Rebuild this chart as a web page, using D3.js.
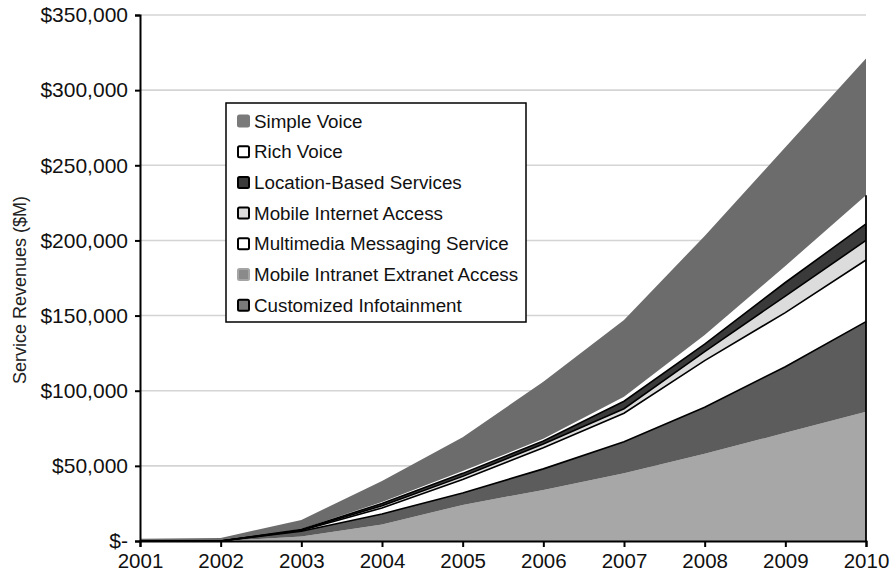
<!DOCTYPE html>
<html>
<head>
<meta charset="utf-8">
<script src="https://cdn.jsdelivr.net/npm/d3@7"></script>
<style>
  html, body { margin: 0; padding: 0; background: #fff; }
  svg { display: block; font-family: "Liberation Sans", Arial, sans-serif; }
</style>
</head>
<body>
<svg id="chart" width="894" height="573"></svg>
<script>
// Years on the horizontal axis
const years = [2001, 2002, 2003, 2004, 2005, 2006, 2007, 2008, 2009, 2010];

// Service revenues by category ($M)
const simpleVoice    = [1500, 2000, 6000, 14000, 22500, 38000, 51000, 66000, 79000, 91000];
const richVoice      = [0, 0, 400, 1000, 1500, 1500, 3000, 6000, 11000, 19000];
const locationBased  = [0, 0, 300, 1500, 2000, 2000, 5000, 5000, 9000, 11000];
const mobileInternet = [0, 0, 300, 1500, 2000, 2500, 3000, 6000, 11000, 13000];
const multimedia     = [0, 0, 500, 4000, 9000, 14000, 19000, 31000, 36000, 41000];
const infotainment   = [0, 0, 3500, 7000, 8000, 14000, 21000, 31000, 44000, 60000];
const intranet       = [0, 0, 3000, 11000, 24000, 34000, 45000, 58000, 72000, 86000];

// Legend order (top to bottom)
const legendNames = [
  "Simple Voice", "Rich Voice", "Location-Based Services", "Mobile Internet Access",
  "Multimedia Messaging Service", "Mobile Intranet Extranet Access", "Customized Infotainment"
];

// Axis ticks
const yTickValues = [0, 50000, 100000, 150000, 200000, 250000, 300000, 350000];
const yTickLabels = ["$-", "$50,000", "$100,000", "$150,000", "$200,000", "$250,000", "$300,000", "$350,000"];
const yTitle = "Service Revenues ($M)";

// Stack order, bottom to top
const stackKeys = ["intranet", "infotainment", "multimedia", "mobileInternet", "locationBased", "richVoice", "simpleVoice"];
const seriesByKey = { simpleVoice, richVoice, locationBased, mobileInternet, multimedia, infotainment, intranet };
const fillByKey = {
  simpleVoice: "#6c6c6c", richVoice: "#ffffff", locationBased: "#3a3a3a",
  mobileInternet: "#dcdcdc", multimedia: "#ffffff", infotainment: "#5c5c5c", intranet: "#a7a7a7"
};
// Which layers get a black outline along their upper edge
const outlinedTop = new Set(["infotainment", "multimedia", "mobileInternet", "locationBased"]);

const table = years.map((yr, i) => {
  const row = { year: yr };
  stackKeys.forEach(k => row[k] = seriesByKey[k][i]);
  return row;
});

const svg = d3.select("#chart");
const plotLeft = 140, plotRight = 866, plotTop = 15, plotBottom = 541;

const x = d3.scaleLinear().domain([2001, 2010]).range([plotLeft, plotRight]);
const y = d3.scaleLinear().domain([0, 350000]).range([plotBottom, plotTop]);

// Gridlines
svg.append("g")
  .selectAll("line")
  .data(yTickValues.filter(v => v > 0))
  .join("line")
  .attr("x1", plotLeft).attr("x2", plotRight)
  .attr("y1", d => y(d)).attr("y2", d => y(d))
  .attr("stroke", "#d4d4d4").attr("stroke-width", 1.6);

// Stacked areas
const stacked = d3.stack().keys(stackKeys)(table);
const area = d3.area()
  .x(d => x(d.data.year))
  .y0(d => y(d[0]))
  .y1(d => y(d[1]));

svg.append("g")
  .selectAll("path")
  .data(stacked)
  .join("path")
  .attr("d", area)
  .attr("fill", d => fillByKey[d.key]);

// Black upper edges for the outlined layers
const topLine = d3.line().x(d => x(d.data.year)).y(d => y(d[1]));
svg.append("g")
  .selectAll("path")
  .data(stacked.filter(s => outlinedTop.has(s.key)))
  .join("path")
  .attr("d", topLine)
  .attr("fill", "none")
  .attr("stroke", "#000")
  .attr("stroke-width", 1.6);

// Right-hand edge of the outlined block at the final year
const richLayer = stacked.find(s => s.key === "richVoice");
const last = richLayer[richLayer.length - 1];
svg.append("line")
  .attr("x1", x(last.data.year)).attr("x2", x(last.data.year))
  .attr("y1", y(last[1])).attr("y2", y(0))
  .attr("stroke", "#000").attr("stroke-width", 1.8);

// Axes
const yAxis = d3.axisLeft(y)
  .tickValues(yTickValues)
  .tickFormat((d, i) => yTickLabels[i])
  .tickSize(5).tickPadding(7);
const gy = svg.append("g").attr("transform", `translate(${plotLeft},0)`).call(yAxis);
gy.select(".domain").attr("stroke", "#000").attr("stroke-width", 2);
gy.selectAll(".tick line").attr("stroke", "#000").attr("stroke-width", 2);
gy.selectAll(".tick text").attr("font-size", 21).attr("fill", "#111")
  .attr("font-family", "Liberation Sans, Arial, sans-serif");

const xAxis = d3.axisBottom(x)
  .tickValues(years)
  .tickFormat(d3.format("d"))
  .tickSize(6).tickPadding(6);
const gx = svg.append("g").attr("transform", `translate(0,${plotBottom})`).call(xAxis);
gx.select(".domain").attr("stroke", "#000").attr("stroke-width", 2);
gx.selectAll(".tick line").attr("stroke", "#000").attr("stroke-width", 2);
gx.selectAll(".tick text").attr("font-size", 20.5).attr("fill", "#111")
  .attr("font-family", "Liberation Sans, Arial, sans-serif");

// Y-axis title
svg.append("text")
  .attr("transform", `translate(20,290) rotate(-90)`)
  .attr("text-anchor", "middle")
  .attr("dy", "0.35em")
  .attr("font-size", 18)
  .attr("fill", "#222")
  .text(yTitle);

// Legend
const legend = svg.append("g");
legend.append("rect")
  .attr("x", 226).attr("y", 103).attr("width", 300).attr("height", 219)
  .attr("fill", "#fff").attr("stroke", "#000").attr("stroke-width", 1.5);

const legendSwatch = {
  "Simple Voice": { fill: "#7a7a7a", stroke: "#7a7a7a" },
  "Rich Voice": { fill: "#ffffff", stroke: "#000" },
  "Location-Based Services": { fill: "#3a3a3a", stroke: "#000" },
  "Mobile Internet Access": { fill: "#dcdcdc", stroke: "#000" },
  "Multimedia Messaging Service": { fill: "#ffffff", stroke: "#000" },
  "Mobile Intranet Extranet Access": { fill: "#8a8a8a", stroke: "#a5a5a5" },
  "Customized Infotainment": { fill: "#7a7a7a", stroke: "#000" }
};

const rows = legend.selectAll("g.row")
  .data(legendNames)
  .join("g")
  .attr("class", "row")
  .attr("transform", (d, i) => `translate(237,${121 + i * 30.7})`);

rows.append("rect")
  .attr("x", 1).attr("y", -5.5).attr("width", 11).attr("height", 11).attr("rx", 1.5)
  .attr("fill", d => legendSwatch[d].fill)
  .attr("stroke", d => legendSwatch[d].stroke)
  .attr("stroke-width", 2);

rows.append("text")
  .attr("x", 17).attr("y", 0).attr("dy", "0.35em")
  .attr("font-size", 18.8).attr("fill", "#111")
  .text(d => d);
</script>
</body>
</html>
